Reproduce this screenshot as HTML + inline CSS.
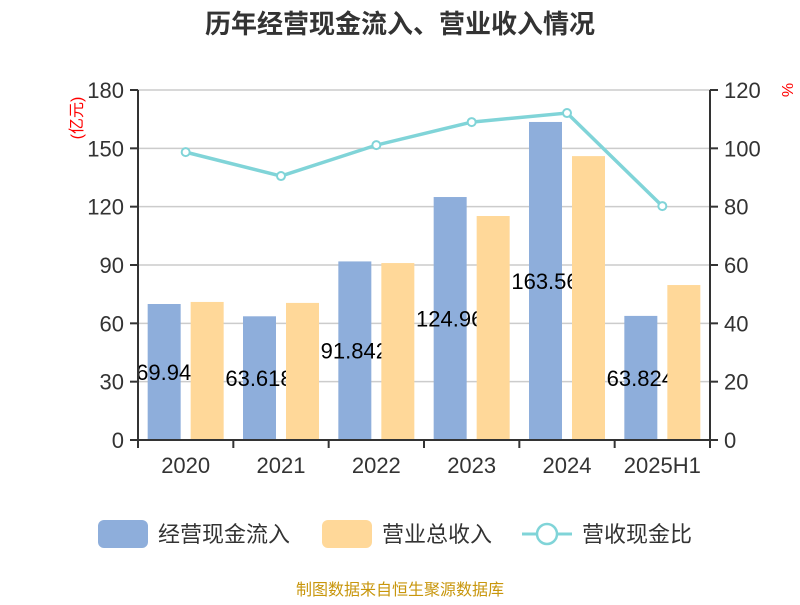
<!DOCTYPE html>
<html><head><meta charset="utf-8"><style>
body{margin:0;background:#fff;font-family:"Liberation Sans","Noto Sans CJK SC",sans-serif}
</style></head><body>
<svg id="c" width="800" height="600" xmlns="http://www.w3.org/2000/svg" font-family="Liberation Sans, Noto Sans CJK SC, sans-serif">
<text x="400" y="33" text-anchor="middle" font-size="26" font-weight="bold" fill="#333">历年经营现金流入、营业收入情况</text>
<text transform="translate(82,118) rotate(-90)" text-anchor="middle" font-size="16" fill="#f00">(亿元)</text>
<text transform="translate(782,90) rotate(90)" text-anchor="middle" font-size="16" fill="#f00">%</text>
<g id="grid"></g><g id="bars"></g><g id="axes"></g><g id="line"></g>
<g>
<rect x="98" y="520" width="50" height="28" rx="6" fill="#8eaedb"/>
<text x="158" y="542" font-size="22" fill="#333">经营现金流入</text>
<rect x="322" y="520" width="50" height="28" rx="6" fill="#ffd899"/>
<text x="382" y="542" font-size="22" fill="#333">营业总收入</text>
<line x1="522" y1="534" x2="572" y2="534" stroke="#80d4d8" stroke-width="3"/>
<circle cx="547" cy="534" r="10" fill="#fff" stroke="#80d4d8" stroke-width="2.5"/>
<text x="582" y="542" font-size="22" fill="#333">营收现金比</text>
</g>
<text x="400" y="595" text-anchor="middle" font-size="16" fill="#c8960c">制图数据来自恒生聚源数据库</text>
</svg>
<script>
const categories=["2020","2021","2022","2023","2024","2025H1"];
const cashInflow=[69.94,63.618,91.842,124.96,163.56,63.824];
const revenue=[71,70.5,91,115.2,146,79.7];
const ratio=[98.7,90.5,101.1,109,112.1,80.2];
const leftTicks=[0,30,60,90,120,150,180];
const rightTicks=[0,20,40,60,80,100,120];
const NS="http://www.w3.org/2000/svg";
const X0=138,X1=710,Y0=440,Y1=90;
const band=(X1-X0)/categories.length;
const yL=v=>Y0-(v/180)*(Y0-Y1);
const yR=v=>Y0-(v/120)*(Y0-Y1);
const xc=i=>X0+band*(i+0.5);
function mk(tag,attrs,parent,txt){const e=document.createElementNS(NS,tag);for(const k in attrs)e.setAttribute(k,attrs[k]);if(txt!=null)e.textContent=txt;document.getElementById(parent).appendChild(e);return e;}
leftTicks.forEach((t,i)=>{
 const g=mk("line",{x1:X0,x2:X1,y1:yL(t),y2:yL(t),stroke:"#ccc","stroke-width":1.5},"grid");
 
 
 const l=mk("text",{x:X0-14,y:yL(t)+8,"text-anchor":"end","font-size":22,fill:"#333"},"axes",t);
 
 
 const tk=mk("line",{x1:X0-8,x2:X0,y1:yL(t),y2:yL(t),stroke:"#333","stroke-width":2},"axes");
 
 
});
rightTicks.forEach(t=>{
 const l=mk("text",{x:X1+14,y:yR(t)+8,"font-size":22,fill:"#333"},"axes",t);
 
 
 const tk=mk("line",{x1:X1,x2:X1+8,y1:yR(t),y2:yR(t),stroke:"#333","stroke-width":2},"axes");
 
 
});
let a=mk("line",{x1:X0,x2:X0,y1:Y1,y2:Y0,stroke:"#333","stroke-width":2},"axes");


a=mk("line",{x1:X1,x2:X1,y1:Y1,y2:Y0,stroke:"#333","stroke-width":2},"axes");


a=mk("line",{x1:X0,x2:X1,y1:Y0,y2:Y0,stroke:"#333","stroke-width":2},"axes");


categories.forEach((c,i)=>{
 const t=mk("line",{x1:X0+band*i,x2:X0+band*i,y1:Y0,y2:Y0+8,stroke:"#333","stroke-width":2},"axes");
 
 
 const l=mk("text",{x:xc(i),y:Y0+33,"text-anchor":"middle","font-size":22,fill:"#333"},"axes",c);
 
 
});
const t=mk("line",{x1:X1,x2:X1,y1:Y0,y2:Y0+8,stroke:"#333","stroke-width":2},"axes");


const bw=33;
categories.forEach((c,i)=>{
 const b=mk("rect",{x:xc(i)-bw-5,y:yL(cashInflow[i]),width:bw,height:Y0-yL(cashInflow[i]),fill:"#8eaedb"},"bars");
 
 
});
categories.forEach((c,i)=>{
 const l=mk("text",{x:xc(i)-22,y:(yL(cashInflow[i])+Y0)/2+8,"text-anchor":"middle","font-size":22,fill:"#000"},"bars",cashInflow[i]);
 
 
});
categories.forEach((c,i)=>{
 const b=mk("rect",{x:xc(i)+5,y:yL(revenue[i]),width:bw,height:Y0-yL(revenue[i]),fill:"#ffd899"},"bars");
 
 
});
const pl=mk("polyline",{points:ratio.map((v,i)=>xc(i)+","+yR(v)).join(" "),fill:"none",stroke:"#80d4d8","stroke-width":3.5},"line");


ratio.forEach((v,i)=>{
 const p=mk("circle",{cx:xc(i),cy:yR(v),r:4,fill:"#fff",stroke:"#80d4d8","stroke-width":2},"line");
 
 
});
</script>
</body></html>
